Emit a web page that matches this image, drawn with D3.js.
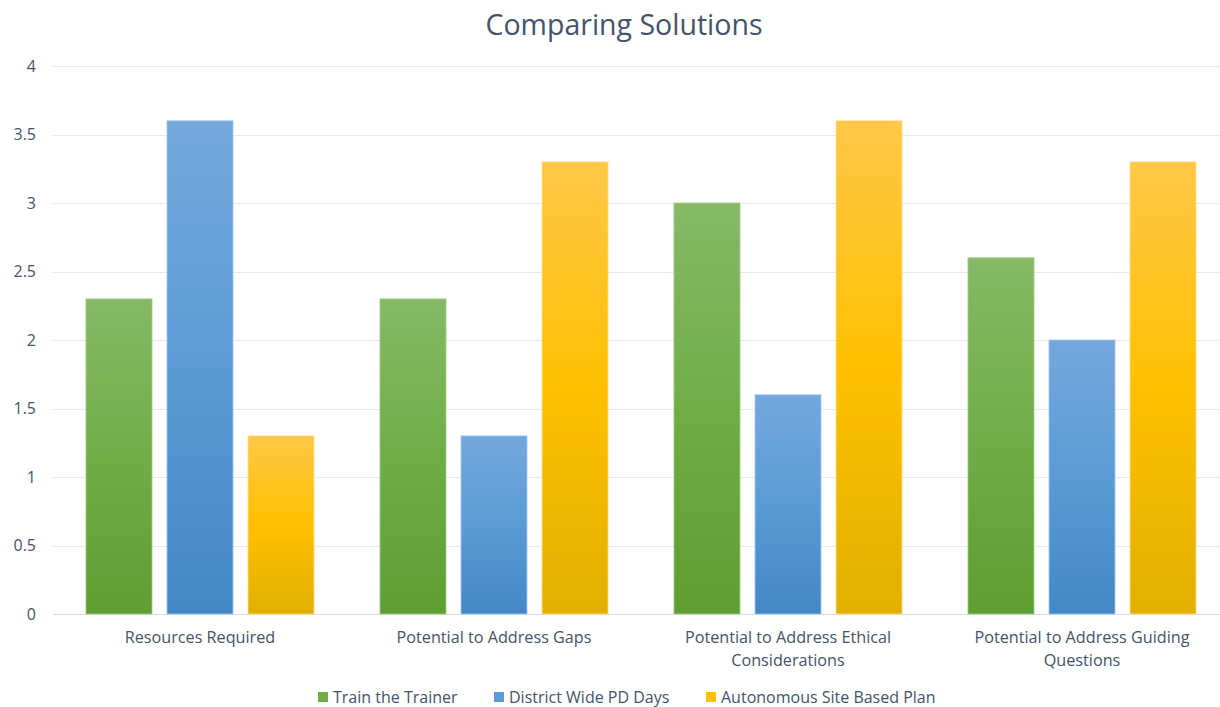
<!DOCTYPE html>
<html>
<head>
<meta charset="utf-8">
<script src="https://cdn.jsdelivr.net/npm/d3@7"></script>
<style>
  html, body { margin: 0; padding: 0; background: #fff; }
  svg { display: block; font-family: "Open Sans", "Noto Sans", sans-serif; }
</style>
</head>
<body>
<svg id="chart" width="1220" height="707"></svg>
<script>
// Chart data
const categories = [
  "Resources Required",
  "Potential to Address Gaps",
  "Potential to Address Ethical Considerations",
  "Potential to Address Guiding Questions"
];
const seriesNames = ["Train the Trainer", "District Wide PD Days", "Autonomous Site Based Plan"];
const trainTheTrainer = [2.3, 2.3, 3.0, 2.6];
const districtWidePD = [3.6, 1.3, 1.6, 2.0];
const autonomousSite = [1.3, 3.3, 3.6, 3.3];
const yTicks = [0, 0.5, 1, 1.5, 2, 2.5, 3, 3.5, 4];

const seriesValues = [trainTheTrainer, districtWidePD, autonomousSite];
// Per-series fill: light tint at the top, base colour in the middle, darker shade at the bottom
const gradients = [
  { top: "#86b966", mid: "#70ad47", bottom: "#5f9e32", legend: "#70ad47", stroke: "#a2cf89" },
  { top: "#74a8dd", mid: "#5b9bd5", bottom: "#4387c6", legend: "#5b9bd5", stroke: "#a6c9ec" },
  { top: "#ffc748", mid: "#ffc000", bottom: "#e1b000", legend: "#ffc000", stroke: "#ffe08a" }
];

const svg = d3.select("#chart");
const width = 1220, height = 707;
const margin = { left: 53, right: -9, top: 66, bottom: 93 };
const textColor = "#44546a";

const x0 = d3.scaleBand()
  .domain(categories)
  .range([margin.left, width - margin.right])
  .paddingInner(0)
  .paddingOuter(0);

const x1 = d3.scaleBand()
  .domain(seriesNames)
  .range([0, x0.bandwidth()])
  .paddingInner(0.185)
  .paddingOuter(0.407);

const y = d3.scaleLinear()
  .domain([0, 4])
  .range([height - margin.bottom, margin.top]);

// Gradients for the bars (relative to each bar's own box)
const defs = svg.append("defs");
gradients.forEach((g, i) => {
  const lg = defs.append("linearGradient")
    .attr("id", "grad" + i)
    .attr("x1", 0).attr("x2", 0)
    .attr("y1", 0).attr("y2", 1);
  lg.append("stop").attr("offset", "0%").attr("stop-color", g.top);
  lg.append("stop").attr("offset", "50%").attr("stop-color", g.mid);
  lg.append("stop").attr("offset", "100%").attr("stop-color", g.bottom);
});

// Title
svg.append("text")
  .attr("x", 624).attr("y", 35)
  .attr("text-anchor", "middle")
  .attr("fill", textColor)
  .attr("font-size", 28.5)
  .text("Comparing Solutions");

// Gridlines
svg.append("g")
  .selectAll("line")
  .data(yTicks)
  .join("line")
  .attr("x1", margin.left).attr("x2", width)
  .attr("y1", d => Math.round(y(d)) + 0.5).attr("y2", d => Math.round(y(d)) + 0.5)
  .attr("stroke", d => d === 0 ? "#d6dce5" : "#e6e8ee")
  .attr("stroke-width", 1.2);

// Y axis labels
const yAxis = d3.axisLeft(y).tickValues(yTicks).tickSize(0).tickPadding(0)
  .tickFormat(d3.format("~g"));
const yg = svg.append("g")
  .attr("transform", `translate(36,0)`)
  .call(yAxis);
yg.select(".domain").remove();
yg.selectAll("text")
  .attr("fill", textColor)
  .attr("font-size", 16)
  .attr("font-family", "'Open Sans', sans-serif");

// Bars
const groups = svg.append("g")
  .selectAll("g")
  .data(categories)
  .join("g")
  .attr("transform", d => `translate(${x0(d)},0)`);

groups.selectAll("rect")
  .data((c, ci) => seriesNames.map((s, si) => ({ s, si, v: seriesValues[si][ci] })))
  .join("rect")
  .attr("x", d => x1(d.s))
  .attr("width", x1.bandwidth())
  .attr("y", d => y(d.v))
  .attr("height", d => y(0) - y(d.v))
  .attr("fill", d => `url(#grad${d.si})`)
  .attr("stroke", d => gradients[d.si].stroke)
  .attr("stroke-width", 0.8);

// X axis category labels (wrapped)
const xAxis = d3.axisBottom(x0).tickSize(0).tickPadding(0);
const xg = svg.append("g")
  .attr("transform", `translate(0,${y(0) + 13})`)
  .call(xAxis);
xg.select(".domain").remove();
xg.selectAll("text")
  .attr("fill", textColor)
  .attr("font-size", 16.2)
  .attr("font-family", "'Open Sans', sans-serif")
  .call(wrap, 225);

function wrap(texts, maxWidth) {
  texts.each(function () {
    const text = d3.select(this);
    const words = text.text().split(/\s+/);
    text.text(null);
    let line = [];
    let tspan = text.append("tspan").attr("x", 0).attr("dy", "1em");
    words.forEach(w => {
      line.push(w);
      tspan.text(line.join(" "));
      if (tspan.node().getComputedTextLength() > maxWidth && line.length > 1) {
        line.pop();
        tspan.text(line.join(" "));
        line = [w];
        tspan = text.append("tspan").attr("x", 0).attr("dy", "1.43em").text(w);
      }
    });
  });
}

// Legend
const legendItems = [
  { name: seriesNames[0], x: 318 },
  { name: seriesNames[1], x: 494 },
  { name: seriesNames[2], x: 706 }
];
const legend = svg.append("g");
legendItems.forEach((item, i) => {
  legend.append("rect")
    .attr("x", item.x).attr("y", 692)
    .attr("width", 10).attr("height", 10)
    .attr("fill", gradients[i].legend);
  legend.append("text")
    .attr("x", item.x + 15).attr("y", 703)
    .attr("fill", textColor)
    .attr("font-size", 16)
    .text(item.name);
});
</script>
</body>
</html>
